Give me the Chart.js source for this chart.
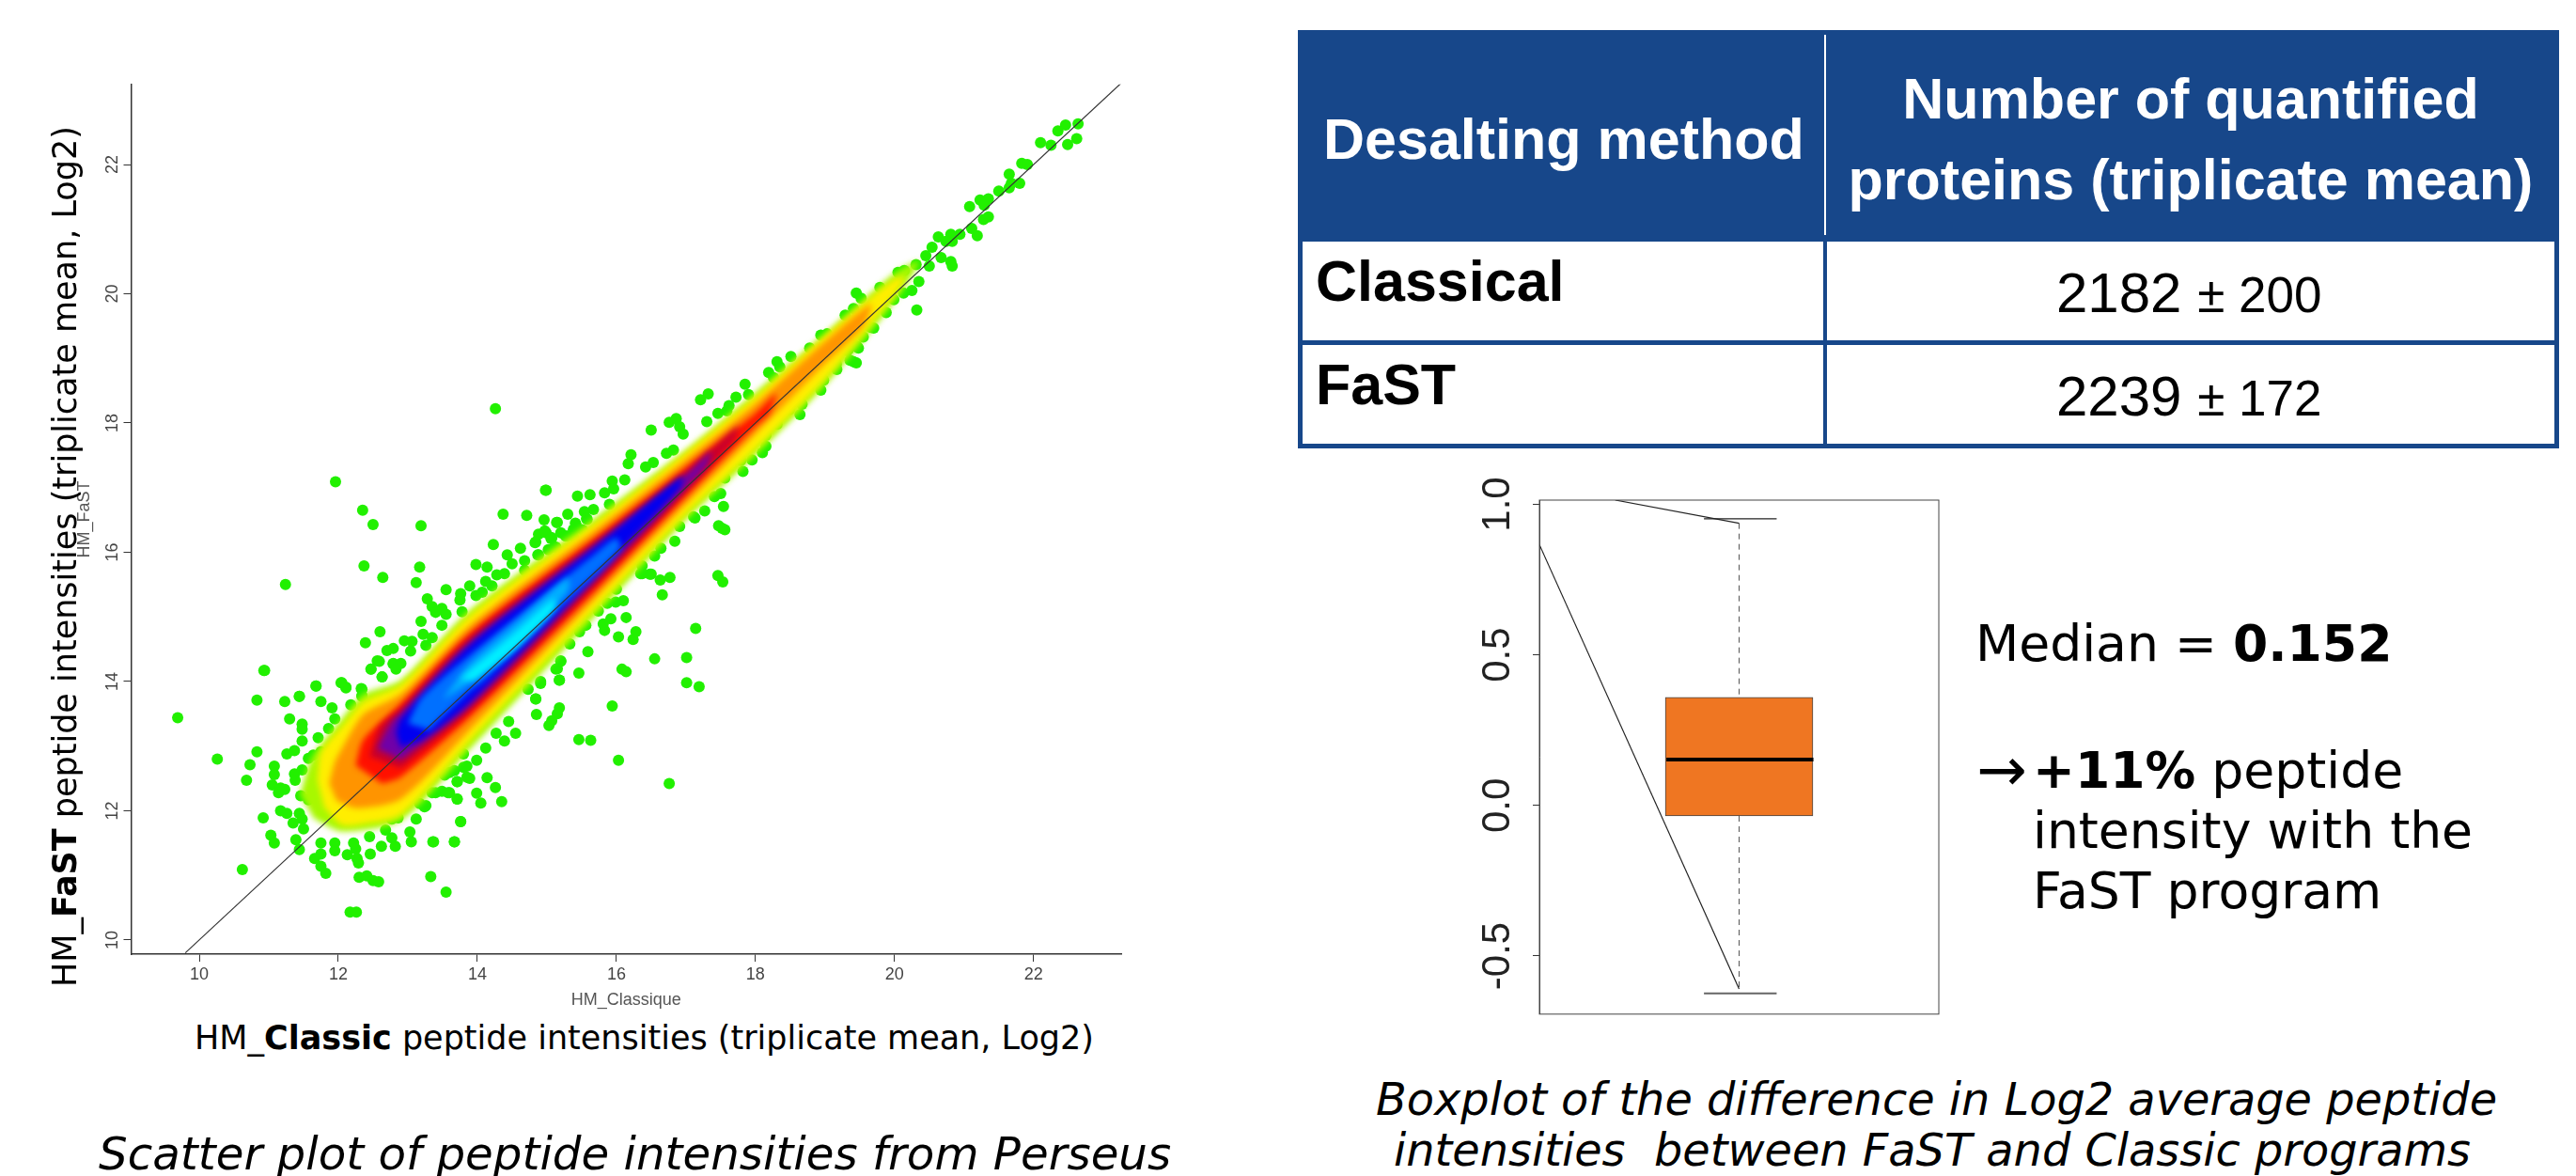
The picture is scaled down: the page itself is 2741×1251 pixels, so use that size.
<!DOCTYPE html>
<html>
<head>
<meta charset="utf-8">
<title>FaST vs Classic desalting</title>
<script src="https://cdn.jsdelivr.net/npm/chart.js@4"></script>
<style>
html, body { margin: 0; padding: 0; background: #fff; }
#page { position: relative; width: 2741px; height: 1251px; overflow: hidden; }
canvas { position: absolute; }
.t { position: absolute; white-space: nowrap; line-height: 1; color: #000; }
.dj { font-family: "DejaVu Sans", sans-serif; }
.lib { font-family: "Liberation Sans", Arial, sans-serif; }
.bar { position: absolute; background: #17478a; }
</style>
</head>
<body>
<div id="page">
  <canvas id="scatterChart" width="1200" height="997" style="left:0;top:78px"></canvas>
  <canvas id="boxChart" width="580" height="604" style="left:1500px;top:500px"></canvas>

  <div class="t dj" style="font-size:35px;left:207px;top:1087px">HM_<b>Classic</b> peptide intensities (triplicate mean, Log2)</div>
  <div class="t dj" style="font-size:35px;left:52px;top:1050px;transform-origin:0 0;transform:rotate(-90deg)">HM_<b>FaST</b> peptide intensities (triplicate mean, Log2)</div>
  <div class="t dj" style="font-size:48.3px;left:105px;top:1203px;font-style:italic">Scatter plot of peptide intensities from Perseus</div>

  <!-- table -->
  <div class="bar" style="left:1381px;top:32px;width:1342px;height:225px"></div>
  <div class="bar" style="left:1381px;top:255px;width:5px;height:222px"></div>
  <div class="bar" style="left:2718px;top:255px;width:5px;height:222px"></div>
  <div class="bar" style="left:1381px;top:362px;width:1342px;height:5px"></div>
  <div class="bar" style="left:1381px;top:472px;width:1342px;height:5px"></div>
  <div class="bar" style="left:1940px;top:255px;width:4px;height:222px"></div>
  <div class="bar" style="left:1941px;top:37px;width:2px;height:213px;background:#fff"></div>
  <div class="t lib" style="font-size:61px;font-weight:bold;color:#fff;left:1408px;top:118px">Desalting method</div>
  <div class="t lib" style="font-size:61px;font-weight:bold;color:#fff;left:1942px;width:778px;text-align:center;top:75px">Number of quantified</div>
  <div class="t lib" style="font-size:61px;font-weight:bold;color:#fff;left:1942px;width:778px;text-align:center;top:161px">proteins (triplicate mean)</div>
  <div class="t lib" style="font-size:61px;font-weight:bold;left:1400px;top:269px">Classical</div>
  <div class="t lib" style="font-size:61px;font-weight:bold;left:1400px;top:379px">FaST</div>
  <div class="t lib" style="font-size:60px;left:2188px;top:282px">2182 <span style="font-size:53px">± 200</span></div>
  <div class="t lib" style="font-size:60px;left:2188px;top:392px">2239 <span style="font-size:53px">± 172</span></div>

  <!-- boxplot notes -->
  <div class="t dj" style="font-size:53.6px;left:2102px;top:658px">Median = <b>0.152</b></div>
  <div class="t dj" style="font-size:64px;left:2103px;top:787px">→</div>
  <div class="t dj" style="font-size:53.6px;left:2163px;top:793px"><b>+11%</b> peptide</div>
  <div class="t dj" style="font-size:53.6px;left:2163px;top:857px">intensity with the</div>
  <div class="t dj" style="font-size:53.6px;left:2163px;top:921px">FaST program</div>
  <div class="t dj" style="font-size:47.8px;left:1464px;top:1146px;font-style:italic">Boxplot of the difference in Log2 average peptide</div>
  <div class="t dj" style="font-size:47.8px;left:1483px;top:1200px;font-style:italic;white-space:pre">intensities  between FaST and Classic programs</div>
</div>

<script>
// scatter axes
const scatterTicks = [10, 12, 14, 16, 18, 20, 22];
const diagonal = [[9.8, 9.8], [23.26, 23.26]];

// green outlier dots [x, y]
const outliers = [
  [10.94,14.17],[9.69,13.44],[10.83,13.71],[11.68,13.93],[12.04,13.98],[12.11,13.90],[11.44,13.77],[11.23,13.69],[11.75,13.69],[11.30,13.42],
  [11.48,13.34],[11.48,13.26],[10.26,12.80],[10.83,12.91],[10.73,12.71],[10.68,12.47],[11.08,12.69],[11.08,12.56],[11.05,12.40],[11.17,12.35],
  [11.23,12.33],[11.14,12.28],[11.26,12.88],[11.37,12.93],[11.48,13.08],[11.71,13.13],[10.92,11.89],[11.17,12.00],[11.26,11.96],[11.03,11.62],
  [11.08,11.50],[10.62,11.09],[11.44,11.96],[11.48,11.87],[11.35,11.81],[11.50,11.72],[11.39,11.55],[11.44,11.40],[11.75,11.50],[11.75,11.33],
  [11.66,11.26],[11.75,11.14],[11.82,11.03],[11.95,11.50],[11.95,11.38],[12.13,11.32],[12.25,11.41],[12.27,11.26],[12.29,11.19],[12.46,11.33],
  [12.30,10.97],[12.41,10.99],[12.50,10.92],[12.58,10.90],[12.17,10.43],[12.26,10.43],[13.33,10.98],[13.55,10.74],[12.62,11.45],[12.82,11.45],
  [12.77,11.58],[12.68,11.70],[12.45,11.60],[13.05,11.52],[13.03,11.67],[13.12,11.87],[13.36,11.52],[13.67,11.52],[13.76,11.83],[13.71,12.18],
  [12.86,11.89],[12.77,11.87],[11.37,12.57],[11.48,12.63],[11.38,12.47],[11.46,12.23],[11.57,12.17],[11.64,12.86],[11.75,12.91],[11.57,12.81],
  [11.86,13.27],[11.95,13.42],[12.18,13.64],[12.34,13.88],[12.47,14.19],[12.63,14.07],[12.56,14.32],[12.79,14.27],[11.91,13.59],[12.34,13.78],
  [13.67,12.62],[13.53,12.55],[13.49,12.30],[13.60,12.28],[13.35,12.28],[13.17,12.11],[13.24,12.06],[13.80,12.67],[13.85,12.52],[13.71,12.45],[12.22,11.50],
  [14.26,18.22],[11.96,17.09],[12.35,16.65],[12.50,16.43],[13.19,16.41],[14.98,16.96],[14.37,16.59],[14.71,16.57],[14.96,16.50],[15.14,16.46],
  [12.37,15.79],[12.64,15.61],[13.17,15.77],[13.12,15.53],[11.24,15.50],[14.23,16.12],[13.98,15.81],[14.14,15.77],[14.62,16.06],[14.43,15.96],
  [14.50,15.82],[14.68,15.87],[14.68,15.72],[14.88,16.28],[14.99,16.30],[15.07,16.22],[14.83,16.15],[15.20,16.30],[15.11,16.08],[14.87,15.96],
  [15.02,16.04],[14.39,15.67],[14.28,15.65],[14.12,15.55],[14.21,15.48],[13.89,15.48],[13.55,15.42],[13.76,15.36],[13.75,15.26],[13.98,15.33],
  [14.07,15.38],[13.28,15.28],[13.35,15.16],[13.49,15.13],[13.55,15.04],[13.78,15.08],[13.40,15.07],[13.19,14.93],[13.49,14.87],[12.60,14.77],
  [12.39,14.60],[12.95,14.63],[13.06,14.62],[13.22,14.73],[13.35,14.68],[13.26,14.56],[13.04,14.47],[12.70,14.48],[12.79,14.51],[12.59,14.31],
  [12.47,14.19],[12.79,14.28],[12.90,14.28],[12.83,14.19],[12.63,14.07],[10.93,14.17],[11.68,13.93],[12.05,13.98],[12.11,13.91],[12.33,13.89],
  [12.34,13.77],[11.44,13.77],[15.20,14.31],[15.13,14.19],[15.18,14.02],[14.91,14.00],[14.73,13.88],[14.84,13.73],
  [17.47,16.41],[17.56,16.35],[17.13,16.53],[17.46,15.64],[17.53,15.54],[16.77,15.61],[16.63,15.57],[16.66,15.34],[16.84,16.17],[16.91,16.40],
  [16.55,15.94],[16.64,16.06],[16.37,15.67],[16.50,15.66],[17.14,14.82],[16.14,14.99],[15.92,14.97],[15.81,14.89],[15.83,14.79],[16.28,14.77],
  [16.24,14.65],[16.03,14.69],[16.10,15.25],[15.99,15.23],[15.87,15.21],[15.74,15.09],[15.56,14.87],[16.55,14.35],[17.01,14.37],[17.01,13.98],
  [17.19,13.92],[16.08,14.19],[16.14,14.15],[15.59,14.46],[15.46,14.13],[15.18,14.02],[15.15,14.20],[15.20,14.32],[15.33,14.58],[15.47,14.77],
  [15.94,13.62],[15.18,13.59],[15.15,13.50],[14.85,13.49],[15.07,13.39],[15.03,13.32],[14.84,13.73],[14.91,13.97],[14.45,13.38],[14.55,13.20],
  [14.39,13.08],[14.12,12.97],[14.27,13.20],[15.46,13.10],[15.63,13.09],[16.03,12.78],[16.76,12.42],[13.99,12.78],[13.80,12.88],[13.85,12.69],
  [13.89,12.50],[14.14,12.51],[14.26,12.36],[13.99,12.27],[14.35,12.14],[14.05,12.12],[13.71,12.18],[13.58,12.28],[13.40,12.28],[13.71,12.45],
  [13.76,11.83],[13.37,11.52],[13.67,11.52],[13.26,12.08],[13.60,12.59],[14.84,16.16],[14.97,16.33],[15.06,16.23],[15.13,16.08],[14.88,15.96],
  [15.29,16.25],[15.42,16.42],[15.58,16.51],[15.38,16.25],[15.15,16.46],[15.51,16.35],
  [19.45,20.01],[19.52,19.93],[19.41,19.77],[19.29,19.67],[18.94,19.36],[19.03,19.38],[18.78,19.16],[18.51,19.03],[18.31,18.95],[18.35,18.87],
  [18.19,18.78],[18.26,18.70],[17.85,18.60],[17.32,18.45],[17.21,18.36],[17.72,18.40],[17.90,18.44],[17.62,18.27],[17.46,18.15],[17.59,18.19],
  [17.30,18.02],[16.86,18.07],[16.76,18.01],[16.91,17.94],[16.96,17.83],[16.50,17.89],[16.21,17.51],[16.17,17.37],[16.82,17.58],[16.72,17.53],
  [16.53,17.39],[16.42,17.32],[15.94,17.10],[16.12,17.12],[15.96,16.98],[15.83,16.92],[15.62,16.89],[15.44,16.87],[14.99,16.96],[15.67,16.66],
  [15.54,16.63],[15.57,16.52],[15.30,16.59],[15.41,16.45],[15.38,16.35],[15.27,16.25],[15.06,16.21],[15.90,16.74],
  [19.66,19.48],[19.48,19.16],[19.41,18.95],[19.16,18.90],[19.32,19.12],[18.98,18.66],[18.94,18.51],[18.67,18.29],[18.64,18.13],[18.49,18.21],
  [18.31,17.98],[18.15,17.81],[18.15,17.64],[18.10,17.54],[17.82,17.25],[17.95,17.43],[17.79,17.42],[17.56,17.15],[17.50,16.91],[17.41,16.86],
  [17.54,16.71],[17.27,16.64],[17.11,16.55],[17.52,16.37],[16.48,15.66],[16.35,15.67],[16.37,15.79],[16.00,15.43],
  [22.64,22.63],[22.46,22.61],[22.35,22.52],[22.10,22.34],[22.25,22.30],[22.49,22.31],[22.62,22.40],[21.83,22.02],[21.91,22.00],[21.65,21.85],
  [21.80,21.71],[21.68,21.71],[21.50,21.59],[21.65,21.64],[21.23,21.45],[21.35,21.47],[21.29,21.37],[21.08,21.35],[21.35,21.19],[21.28,21.15],
  [21.11,21.01],[21.19,20.90],[20.94,20.92],[20.81,20.92],[20.63,20.88],[20.83,20.81],[20.74,20.81],[20.54,20.72],[20.45,20.59],[20.67,20.56],
  [20.81,20.50],[20.83,20.43],[20.50,20.43],[20.31,20.45],[20.14,20.36],[20.05,20.33],[20.35,20.19],[20.25,20.05],[20.13,20.01],[20.32,19.75],
  [19.79,20.10],[19.88,19.71],[19.70,19.47],[19.99,19.91],[19.55,19.33],[19.46,19.19],[19.34,19.14],[19.36,18.97],[19.45,18.93],[19.16,18.92],[19.17,18.83]
];

// density contours, outermost first [x, y]
const contourLime = [[11.45,12.25],[11.62,12.82],[12.05,13.42],[12.36,13.8],[12.9,14.02],[13.89,15.1],[15.72,16.55],[17,17.58],[18,18.47],[19,19.38],[20,20.32],[20.35,20.5],[20,19.88],[19,18.58],[18,17.5],[17,16.5],[15.72,15.04],[13.89,12.95],[12.9,11.85],[12.05,11.68],[11.65,11.88]];
const contourYellow = [[11.7,12.47],[11.75,12.9],[12.05,13.3],[12.36,13.68],[12.9,13.95],[13.89,15.02],[15.72,16.48],[17,17.55],[18,18.41],[19,19.35],[20,20.23],[20.15,20.25],[20,19.99],[19,18.68],[18,17.6],[17,16.59],[15.72,15.16],[13.89,13.08],[12.9,11.94],[12.36,11.8],[12.05,11.78],[11.8,12.05]];
const contourOrange = [[11.87,12.42],[11.95,12.75],[12.05,12.96],[12.36,13.49],[12.9,13.81],[13.89,14.87],[15.72,16.37],[17,17.44],[18,18.3],[19,19.26],[19.66,19.84],[19.55,19.5],[19,18.92],[18,17.83],[17,16.74],[15.72,15.31],[13.89,13.25],[12.9,12.18],[12.27,12.04],[11.98,12.15]];
const contourRed = [[12.25,12.7],[12.36,13.1],[12.9,13.66],[13.89,14.75],[15.72,16.25],[17,17.32],[18,18.15],[18.3,18.45],[18.2,18.15],[18,17.95],[17,16.86],[15.72,15.43],[13.89,13.45],[12.9,12.52],[12.63,12.42]];
const contourCrimson = [[12.45,12.84],[12.6,13.3],[12.9,13.58],[13.89,14.68],[15.72,16.18],[17,17.24],[17.75,17.95],[17.7,17.75],[17,16.95],[15.72,15.52],[13.89,13.55],[12.9,12.66]];
const contourPurple = [[12.56,12.96],[12.75,13.35],[12.9,13.51],[13.89,14.6],[15.72,16.14],[17,17.2],[17.36,17.56],[17.3,17.35],[17,17],[15.72,15.6],[13.89,13.62],[12.9,12.79]];
const contourBlue = [[12.83,13.2],[12.9,13.42],[13.89,14.56],[15.72,16.1],[16.95,17.18],[16.9,16.98],[15.72,15.67],[13.89,13.68],[13.2,13.1],[12.9,12.98]];
const contourMidBlue = [[13,13.35],[13.2,13.75],[13.89,14.41],[15.72,16],[16,16.22],[16.05,16.05],[15,14.95],[14.1,14.02],[13.89,13.85],[13.3,13.25]];
const contourSky = [[13.5,13.72],[13.89,14.27],[14.6,14.95],[15.3,15.6],[15.3,15.4],[14.6,14.6],[13.89,13.98]];
const contourCyan = [[13.75,14.03],[13.95,14.22],[14.5,14.72],[15.1,15.28],[15.1,15.12],[14.5,14.47],[13.95,14.02]];

// boxplot values
const boxTicks = [-0.5, 0, 0.5, 1];
const boxQ1 = -0.035;
const boxQ3 = 0.359;
const boxMedian = 0.152;
const whiskerLow = -0.624;
const whiskerHigh = 0.952;
const slantLong = [[0, 0.866], [0.5, -0.609]];
const slantShort = [[0.19, 1.014], [0.5, 0.937]];

const toPoints = list => list.map(p => ({ x: p[0], y: p[1] }));

function contour(list, color) {
    return {
        type: 'scatter', data: toPoints(list), showLine: true, fill: 'shape',
        backgroundColor: color, borderWidth: 0, pointRadius: 0, tension: 0.25
    };
}

// soft edges: dots (last dataset) get drawn first, then the filler paints each
// band just before its own dataset hook; the diagonal stays sharp
const softBands = {
    id: 'softBands',
    beforeDatasetsDraw(chart) { chart.ctx.filter = 'blur(0.7px)'; },
    afterDatasetDraw(chart, args) {
        if (args.index === chart.data.datasets.length - 1) chart.ctx.filter = 'blur(3px)';
        if (args.index === 1) chart.ctx.filter = 'none';
    }
};

new Chart(document.getElementById('scatterChart').getContext('2d'), {
    type: 'scatter',
    plugins: [softBands],
    data: {
        datasets: [
            { data: toPoints(diagonal), showLine: true, borderColor: '#333', borderWidth: 1.2, pointRadius: 0 },
            contour(contourCyan, '#00f0ff'),
            contour(contourSky, '#00b0ff'),
            contour(contourMidBlue, '#0070ff'),
            contour(contourBlue, '#0000f0'),
            contour(contourPurple, '#7000a8'),
            contour(contourCrimson, '#c8002c'),
            contour(contourRed, '#ff1000'),
            contour(contourOrange, '#ff9400'),
            contour(contourYellow, '#ffee00'),
            contour(contourLime, '#a8f800'),
            { data: toPoints(outliers), pointRadius: 6, pointBorderWidth: 0, pointBackgroundColor: '#22f000' }
        ]
    },
    options: {
        responsive: false,
        animation: false,
        layout: { padding: { top: 5, right: 7 } },
        plugins: { legend: { display: false }, tooltip: { enabled: false } },
        scales: {
            x: {
                type: 'linear', min: 9.02, max: 23.26,
                afterFit(axis) { axis.height = 60; },
                afterBuildTicks(axis) { axis.ticks = scatterTicks.map(v => ({ value: v })); },
                grid: { drawOnChartArea: false, tickLength: 8, color: '#333' },
                border: { color: '#333', width: 1.5 },
                ticks: { padding: 3, font: { family: 'Liberation Sans', size: 18 }, color: '#444', autoSkip: false, maxRotation: 0 },
                title: { display: true, text: 'HM_Classique', color: '#555', font: { family: 'Liberation Sans', size: 18 }, padding: { top: 14, bottom: 0 } }
            },
            y: {
                type: 'linear', min: 9.78, max: 23.24,
                afterFit(axis) { axis.width = 139.5; },
                afterBuildTicks(axis) { axis.ticks = scatterTicks.map(v => ({ value: v })); },
                grid: { drawOnChartArea: false, tickLength: 8, color: '#333' },
                border: { color: '#333', width: 1.5 },
                ticks: { padding: 1, font: { family: 'Liberation Sans', size: 18 }, color: '#444', autoSkip: false, minRotation: 90, maxRotation: 90, crossAlign: 'center' },
                title: { display: true, text: 'HM_FaST', color: '#555', font: { family: 'Liberation Sans', size: 18 }, padding: { top: 79, bottom: 0 } }
            }
        }
    }
});

const boxFrame = {
    id: 'boxFrame',
    afterDraw(chart) {
        const a = chart.chartArea, ctx = chart.ctx;
        ctx.save();
        ctx.strokeStyle = '#444';
        ctx.lineWidth = 1;
        ctx.strokeRect(a.left, a.top, a.right - a.left, a.bottom - a.top);
        ctx.restore();
    }
};

function segment(list, color, width, dash) {
    return { type: 'scatter', data: toPoints(list), showLine: true, borderColor: color, borderWidth: width, borderDash: dash || [], pointRadius: 0 };
}

new Chart(document.getElementById('boxChart').getContext('2d'), {
    type: 'scatter',
    plugins: [boxFrame],
    data: {
        datasets: [
            segment(slantLong, '#222', 1.2),
            segment(slantShort, '#222', 1.2),
            segment([[0.318, boxMedian], [0.686, boxMedian]], '#000', 4),
            {
                type: 'bar', data: [{ x: 0.5, y: [boxQ1, boxQ3] }], barThickness: 157,
                backgroundColor: '#ef7622', borderColor: '#444', borderWidth: 1, borderSkipped: false
            },
            segment([[0.412, whiskerHigh], [0.594, whiskerHigh]], '#222', 1.2),
            segment([[0.412, whiskerLow], [0.594, whiskerLow]], '#666', 2),
            segment([[0.5, 0.937], [0.5, boxQ3]], '#555', 1, [6, 5]),
            segment([[0.5, boxQ1], [0.5, -0.609]], '#555', 1, [6, 5])
        ]
    },
    options: {
        responsive: false,
        animation: false,
        layout: { padding: { top: 32, right: 17, bottom: 21 } },
        plugins: { legend: { display: false }, tooltip: { enabled: false } },
        scales: {
            x: { type: 'linear', min: 0, max: 1, display: false, offset: false },
            y: {
                type: 'linear', min: -0.693, max: 1.014,
                afterFit(axis) { axis.width = 138; },
                afterBuildTicks(axis) { axis.ticks = boxTicks.map(v => ({ value: v })); },
                grid: { drawOnChartArea: false, tickLength: 7, color: '#333' },
                border: { color: '#444' },
                ticks: {
                    padding: 0, font: { family: 'Liberation Sans', size: 42 }, color: '#222', autoSkip: false,
                    minRotation: 90, maxRotation: 90, crossAlign: 'center',
                    callback: v => v.toFixed(1)
                }
            }
        }
    }
});
</script>
</body>
</html>
